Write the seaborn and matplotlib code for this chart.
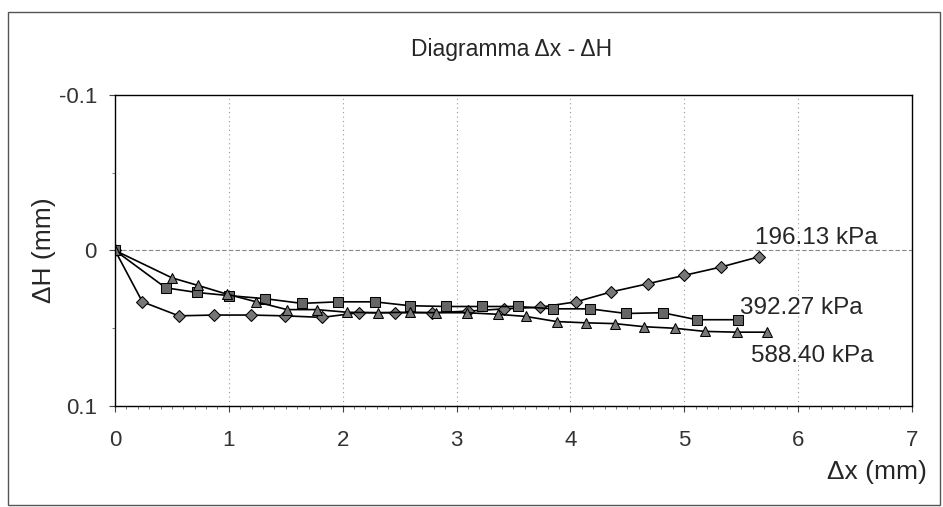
import matplotlib
matplotlib.use("Agg")
import matplotlib.pyplot as plt
import seaborn as sns
import pandas as pd
from matplotlib.patches import Rectangle
from matplotlib.ticker import MultipleLocator

# series (dx in mm, dH in mm, positive = settlement)
dx_196 = [0, 0.24, 0.56, 0.87, 1.19, 1.49, 1.82, 2.14, 2.46, 2.78, 3.10, 3.42,
          3.73, 4.05, 4.36, 4.68, 5.00, 5.32, 5.66]
dh_196 = [0, 0.033, 0.042, 0.0415, 0.0415, 0.042, 0.043, 0.040, 0.040, 0.040,
          0.039, 0.0375, 0.0365, 0.033, 0.0266, 0.0214, 0.016, 0.0107, 0.004]

dx_392 = [0, 0.445, 0.72, 1.00, 1.32, 1.64, 1.96, 2.28, 2.59, 2.91, 3.22, 3.54,
          3.85, 4.17, 4.49, 4.81, 5.11, 5.47]
dh_392 = [0, 0.024, 0.027, 0.029, 0.031, 0.034, 0.033, 0.033, 0.0355, 0.036,
          0.036, 0.036, 0.0375, 0.0375, 0.0405, 0.040, 0.0445, 0.0445]

dx_588 = [0, 0.50, 0.73, 0.98, 1.24, 1.51, 1.77, 2.04, 2.31, 2.59, 2.82, 3.09,
          3.36, 3.61, 3.88, 4.14, 4.39, 4.65, 4.92, 5.18, 5.46, 5.73]
dh_588 = [0, 0.0176, 0.0225, 0.028, 0.033, 0.038, 0.038, 0.0397, 0.040, 0.0397,
          0.040, 0.040, 0.041, 0.0424, 0.0457, 0.0465, 0.047, 0.049, 0.050,
          0.052, 0.0525, 0.0525]

labels = ["196.13 kPa", "392.27 kPa", "588.40 kPa"]

sns.set_style("white")
plt.rcParams['font.family'] = ['Liberation Sans', 'DejaVu Sans']

fig = plt.figure(figsize=(9.43, 5.07), dpi=100)
ax = fig.add_axes([0.122, 0.199, 0.845, 0.614])

# outer chart frame
fig.patches.append(Rectangle((0.009, 0.004), 0.988, 0.972, transform=fig.transFigure,
                             fill=False, edgecolor="#555555", linewidth=1.0))

sns.lineplot(x=dx_196, y=dh_196, ax=ax, color="black", linewidth=1.2, marker="D",
             markersize=6, markerfacecolor="#777777", markeredgecolor="black", sort=False)
sns.lineplot(x=dx_392, y=dh_392, ax=ax, color="black", linewidth=1.2, marker="s",
             markersize=7, markerfacecolor="#666666", markeredgecolor="black", sort=False)
sns.lineplot(x=dx_588, y=dh_588, ax=ax, color="black", linewidth=1.2, marker="^",
             markersize=7, markerfacecolor="#777777", markeredgecolor="black", sort=False)

ax.set_xlim(0, 7)
ax.set_ylim(0.1, -0.1)
ax.set_xticks(range(0, 8))
ax.set_yticks([-0.1, 0, 0.1])
ax.set_yticklabels(["-0.1", "0", "0.1"])
ax.xaxis.set_minor_locator(MultipleLocator(0.1))
ax.yaxis.set_minor_locator(MultipleLocator(0.05))
ax.tick_params(axis="both", which="major", labelsize=16, length=4, color="#444444",
               direction="out")
ax.tick_params(axis="x", which="major", pad=13)
ax.tick_params(axis="y", which="major", pad=9)
ax.tick_params(axis="both", which="minor", length=2, color="#666666", direction="out")
ax.tick_params(axis="x", which="both", bottom=True)
ax.tick_params(axis="y", which="both", left=True)
for lbl in ax.get_xticklabels() + ax.get_yticklabels():
    lbl.set_color("#333333")

for x in range(1, 7):
    ax.axvline(x, color="#999999", linestyle=(0, (1, 3)), linewidth=0.8, zorder=0)
ax.axhline(0, color="#888888", linestyle=(0, (4, 2)), linewidth=0.8, zorder=0)

for s in ax.spines.values():
    s.set_color("black")
    s.set_linewidth(1.0)

ax.set_xlabel("")
ax.set_ylabel("")
fig.text(0.047, 0.507, "\u0394H (mm)", rotation=90, ha="center", va="center", fontsize=19)
fig.text(0.930, 0.069, "\u0394x (mm)", ha="center", va="center", fontsize=19)
fig.text(0.542, 0.902, "Diagramma \u0394x - \u0394H", ha="center", va="center", fontsize=16.5)

ax.text(5.62, -0.0077, labels[0], fontsize=17.5, ha="left", va="center")
ax.text(5.49, 0.0367, labels[1], fontsize=17.5, ha="left", va="center")
ax.text(5.59, 0.0675, labels[2], fontsize=17.5, ha="left", va="center")

fig.savefig("out.png", dpi=100)
